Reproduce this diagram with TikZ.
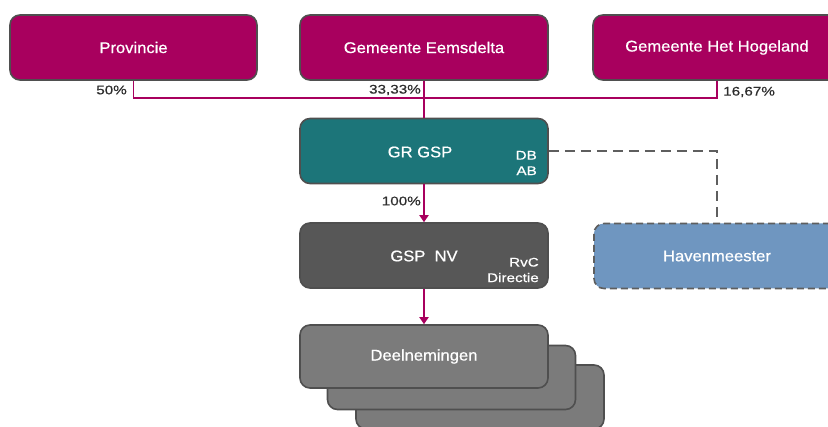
\documentclass[tikz,border=0pt]{standalone}
\usepackage{fontspec}
\setmainfont{Liberation Sans}
\newfontfamily\boxfont{Liberation Sans}[FakeStretch=1.07,FakeBold=0.7]
\newfontfamily\smallfont{Liberation Sans}[FakeStretch=1.22,FakeBold=0.6]
\usetikzlibrary{arrows.meta}
\definecolor{mag}{HTML}{A8005E}
\definecolor{tealbox}{HTML}{1C7579}
\definecolor{darkbox}{HTML}{575757}
\definecolor{bluebox}{HTML}{6F96C0}
\definecolor{greybox}{HTML}{7B7B7B}
\definecolor{edge}{HTML}{4F4F4F}
\definecolor{dashc}{HTML}{5E5E5E}
\definecolor{labc}{HTML}{2E2E2E}
\tikzset{
  orgbox/.style={draw=edge, line width=1.6pt, rounded corners=10pt, minimum height=65pt,
    minimum width=248pt, inner sep=0pt, text=white,
    font=\boxfont\fontsize{15.5}{18}\selectfont},
  pct/.style={inner sep=0pt, text=labc, font=\smallfont\fontsize{12.5}{14}\selectfont},
  sub/.style={inner sep=0pt, text=white, align=right, font=\smallfont\fontsize{12.5}{15.5}\selectfont},
  link/.style={draw=mag, line width=1.9pt},
  arr/.style={link, -{Triangle[width=9pt,length=7pt]}},
  dashlink/.style={draw=dashc, line width=2.4pt, dash pattern=on 10pt off 6pt}
}
\begin{document}
\begin{tikzpicture}[x=1pt,y=-1pt]
\useasboundingbox (0,0) rectangle (828,427);
% top row
\node[orgbox, fill=mag, minimum width=247pt] (prov) at (133.5,47.5) {Provincie};
\node[orgbox, fill=mag] (eems) at (424,47.5) {Gemeente Eemsdelta};
\node[orgbox, fill=mag] (hog) at (717,47.5) {Gemeente Het Hogeland};
% middle
\node[orgbox, fill=tealbox] (gr) at (424,151) {};
\node[text=white, inner sep=0pt, font=\boxfont\fontsize{15.5}{18}\selectfont] (grt) at (420,152) {GR GSP};
\node[sub, anchor=east] (grsub) at (537,163) {DB\\AB};
\node[orgbox, fill=darkbox] (nv) at (424,255.5) {};
\node[text=white, inner sep=0pt, font=\boxfont\fontsize{15.5}{18}\selectfont] (nvt) at (424,256) {GSP\ \ NV};
\node[sub, anchor=east] (nvsub) at (539,270) {RvC\\Directie};
\node[orgbox, fill=bluebox, draw=dashc, dash pattern=on 7pt off 4pt, minimum width=246pt] (haven) at (717,256) {Havenmeester};
% deelnemingen stack
\node[orgbox, fill=greybox, minimum height=64pt] (d3) at (480,397) {};
\node[orgbox, fill=greybox, minimum height=64pt] (d2) at (451.5,377.5) {};
\node[orgbox, fill=greybox, minimum height=63pt] (d1) at (424,356.5) {Deelnemingen};
% connectors
\coordinate (jn) at (424,98);
\draw[link] (prov.south) |- (jn);
\draw[link] (hog.south) |- (jn);
\draw[link] (eems.south) -- (gr.north);
\draw[arr] (gr.south) -- (nv.north);
\draw[arr] (nv.south) -- (d1.north);
\draw[dashlink] (gr.east) -| (haven.north);
% labels
\node[pct, anchor=east] (p1) at (127,90) {50\%};
\node[pct, anchor=east] (p2) at (421,90) {33,33\%};
\node[pct, anchor=west] (p3) at (723,92) {16,67\%};
\node[pct, anchor=east] (p4) at (421,201) {100\%};
\end{tikzpicture}
\end{document}
